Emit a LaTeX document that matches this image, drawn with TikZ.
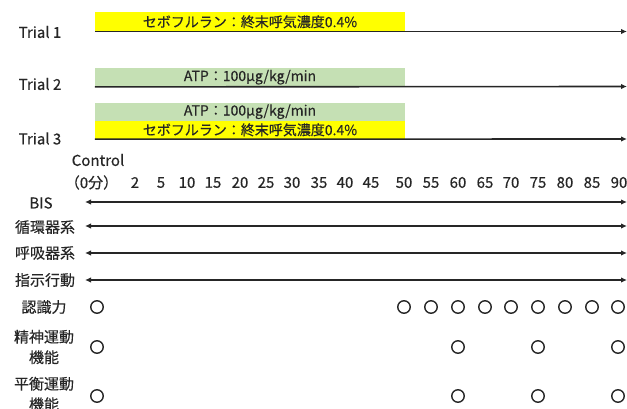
\documentclass[tikz,border=0pt]{standalone}
\usepackage{fontspec}
\setmainfont{Noto Sans CJK JP}[FakeBold=0.4]
\usetikzlibrary{arrows.meta}
\definecolor{barY}{HTML}{FFFF00}
\definecolor{barG}{HTML}{C5E0B4}
\definecolor{ln}{HTML}{262626}
\begin{document}
\begin{tikzpicture}[x=1pt,y=-1pt,
  lbl/.style={font=\fontsize{15}{20.5}\selectfont, inner sep=0pt, anchor=center, text=ln, align=center},
  barbox/.style={inner sep=0pt, minimum width=310pt, font=\fontsize{14}{15}\selectfont, text=ln},
  tl/.style={draw=ln, line width=1.6pt, -{Latex[length=6pt,width=5.5pt]}},
  rl/.style={draw=ln, line width=1.6pt, {Latex[length=6pt,width=5.5pt]}-{Latex[length=6pt,width=5.5pt]}},
  mk/.style={circle, draw=ln, line width=1.4pt, minimum size=12.5pt, inner sep=0pt}]
\useasboundingbox (0,0) rectangle (627,409);

% bars
\node[barbox, fill=barY, minimum height=19pt] (y1) at (250,21.8) {セボフルラン：終末呼気濃度0.4\%};
\node[barbox, fill=barG, minimum height=19pt] (g2) at (250,77.2) {ATP：100μg/kg/min};
\node[barbox, fill=barG, minimum height=18pt] (g3) at (250,111.7) {ATP：100μg/kg/min};
\node[barbox, fill=barY, minimum height=18.3pt] (y3) at (250,129.85) {セボフルラン：終末呼気濃度0.4\%};

% trial labels
\node[lbl] (tr1) at (40,32) {Trial 1};
\node[lbl] (tr2) at (40,84) {Trial 2};
\node[lbl] (tr3) at (40,138.5) {Trial 3};

% trial timelines
\coordinate (e1) at (627,31.5);
\coordinate (e2) at (627,86.5);
\coordinate (e3) at (627,139);
\draw[tl] (y1.south west) -- (e1);
\draw[tl] (g2.south west) -- (e2);
\draw[tl] (y3.south west) -- (e3);

% time axis
\node[lbl] (ctl) at (98,160) {Control};
\node[lbl] (t0) at (91.5,182.5) {（0分）};
\foreach \v/\xx in {2/135,5/161,10/187,15/213,20/240,25/266,30/292,35/319,40/345,45/371,50/404,55/431,60/458,65/485,70/511,75/538,80/565,85/592,90/619}
  \node[lbl] (t\v) at (\xx,182.5) {\v};

% row labels
\node[lbl] (bis) at (41,203) {BIS};
\node[lbl] (cir) at (45,227) {循環器系};
\node[lbl] (res) at (45,253) {呼吸器系};
\node[lbl] (ins) at (45,280) {指示行動};
\node[lbl] (cog) at (44,307) {認識力};
\node[lbl] (psy) at (44,347) {精神運動\\機能};
\node[lbl] (bal) at (44,394) {平衡運動\\機能};

% row arrows
\foreach \n/\yy in {bis/202,cir/226,res/253,ins/280}{
  \coordinate (\n L) at (85,\yy);
  \coordinate (\n R) at (627,\yy);
  \draw[rl] (\n L) -- (\n R);
}

% markers
\node[mk] (c0) at (97,307) {};
\foreach \xx/\k in {404/a,431/b,458/c,485/d,511/e,538/f,565/g,592/h,618/i}
  \node[mk] (c\k) at (\xx,307) {};
\node[mk] (p0) at (97,347) {};
\node[mk] (p60) at (458,347) {};
\node[mk] (p75) at (538,347) {};
\node[mk] (p90) at (618,347) {};
\node[mk] (b0) at (97,396) {};
\node[mk] (b60) at (458,396) {};
\node[mk] (b75) at (538,396) {};
\node[mk] (b90) at (618,396) {};
\end{tikzpicture}
\end{document}
